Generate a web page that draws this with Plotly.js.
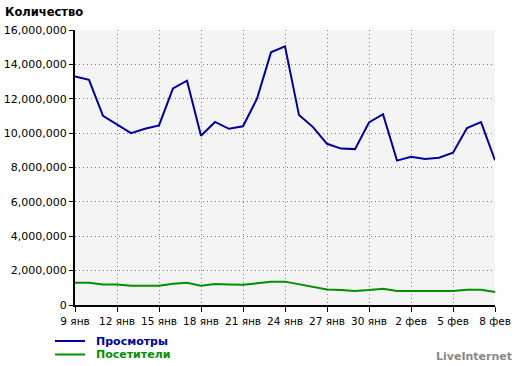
<!DOCTYPE html>
<html>
<head>
<meta charset="utf-8">
<script src="https://cdn.plot.ly/plotly-3.0.1.min.js"></script>
<style>
html,body{margin:0;padding:0;background:#fff;}
#chart{width:520px;height:366px;}
</style>
</head>
<body>
<div id="chart"></div>
<script>
const days = ["9 янв","10 янв","11 янв","12 янв","13 янв","14 янв","15 янв","16 янв","17 янв","18 янв",
  "19 янв","20 янв","21 янв","22 янв","23 янв","24 янв","25 янв","26 янв","27 янв","28 янв",
  "29 янв","30 янв","31 янв","1 фев","2 фев","3 фев","4 фев","5 фев","6 фев","7 фев","8 фев"];
const tickLabels = ["9 янв","12 янв","15 янв","18 янв","21 янв","24 янв","27 янв","30 янв","2 фев","5 фев","8 фев"];
const views = [13300000,13100000,11000000,10500000,10000000,10250000,10450000,12600000,13050000,9850000,
  10650000,10250000,10400000,12000000,14700000,15050000,11050000,10350000,9380000,9100000,
  9070000,10620000,11100000,8400000,8630000,8500000,8570000,8860000,10300000,10640000,8420000];
const visitors = [1300000,1300000,1200000,1200000,1120000,1120000,1120000,1230000,1300000,1120000,
  1220000,1200000,1180000,1260000,1350000,1360000,1220000,1080000,900000,880000,
  820000,870000,940000,820000,810000,810000,810000,810000,890000,890000,760000];
const yTicks = [0,2000000,4000000,6000000,8000000,10000000,12000000,14000000,16000000];
const yTickText = ["0","2,000,000","4,000,000","6,000,000","8,000,000","10,000,000","12,000,000","14,000,000","16,000,000"];
const seriesNames = ["Просмотры", "Посетители"];
const seriesColors = ["#0000a0", "#009000"];

const W = 520, H = 366;
const font = "DejaVu Sans, Verdana, sans-serif";
const traces = [
  {x: days, y: views, type: "scatter", mode: "lines", name: seriesNames[0],
   line: {color: seriesColors[0], width: 2}},
  {x: days, y: visitors, type: "scatter", mode: "lines", name: seriesNames[1],
   line: {color: seriesColors[1], width: 2}}
];
// legend drawn as decoration in paper coordinates
const shapes = [], annotations = [];
seriesNames.forEach(function(n, i){
  const yp = (305 - (341 + i*13.5)) / 275;
  shapes.push({type: "line", xref: "paper", yref: "paper", layer: "above",
    x0: (55-75)/420, x1: (85-75)/420, y0: yp, y1: yp,
    line: {color: seriesColors[i], width: 2}});
  annotations.push({text: n, xref: "paper", yref: "paper", x: (95-75)/420, y: yp,
    xanchor: "left", yanchor: "middle", showarrow: false, borderpad: 0,
    font: {family: font, size: 11, weight: "bold", color: seriesColors[i]}});
});
annotations.push({text: "LiveInternet", xref: "paper", yref: "paper", x: (513-75)/420, y: (305-356)/275,
  xanchor: "right", yanchor: "middle", showarrow: false, borderpad: 0,
  font: {family: font, size: 11, weight: "bold", color: "#888888"}});

const layout = {
  width: W, height: H,
  margin: {l: 75, r: 25, t: 30, b: 61, autoexpand: false},
  paper_bgcolor: "#ffffff",
  plot_bgcolor: "#f4f4f4",
  font: {family: font, size: 11, color: "#000"},
  title: {text: "Количество", font: {family: font, size: 11.5, weight: "bold", color: "#000"},
    xref: "container", yref: "container", x: 5/W, xanchor: "left", y: 1 - 12/H, yanchor: "middle"},
  xaxis: {type: "category", categoryorder: "array", categoryarray: days,
    range: [0, 30], tickmode: "array", tickvals: tickLabels, ticktext: tickLabels, tickangle: 0,
    automargin: false,
    showgrid: true, gridcolor: "#808080", griddash: "1px,3px", gridwidth: 1,
    showline: true, linecolor: "#000", linewidth: 2,
    ticks: "outside", ticklen: 5, tickcolor: "#000", tickwidth: 1,
    zeroline: false, fixedrange: true, tickfont: {size: 10.5}},
  yaxis: {range: [0, 16000000], tickmode: "array", tickvals: yTicks, ticktext: yTickText,
    automargin: false,
    showgrid: true, gridcolor: "#808080", griddash: "1px,3px", gridwidth: 1,
    showline: true, linecolor: "#000", linewidth: 2,
    ticks: "outside", ticklen: 4, tickcolor: "#000", tickwidth: 1,
    zeroline: false, fixedrange: true, tickfont: {size: 11}},
  showlegend: false,
  shapes: shapes,
  annotations: annotations
};
Plotly.newPlot("chart", traces, layout, {displayModeBar: false, staticPlot: true});
</script>
</body>
</html>
